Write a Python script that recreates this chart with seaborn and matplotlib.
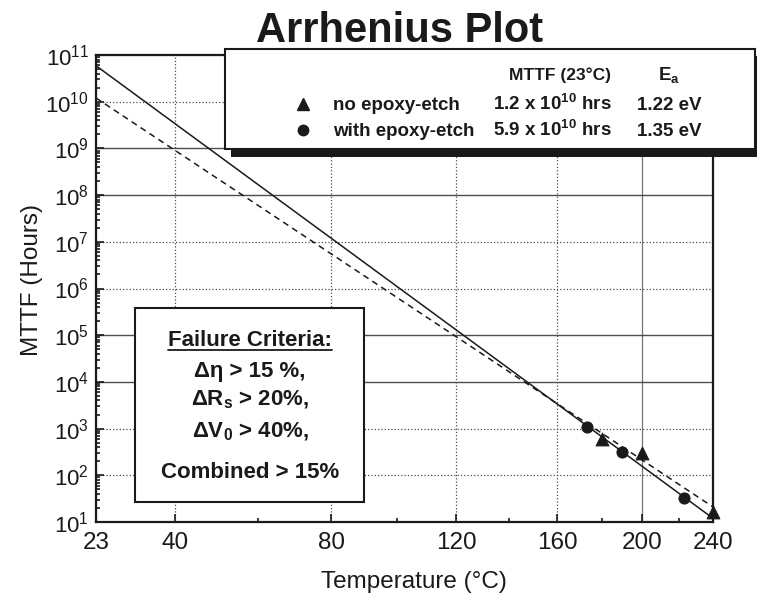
import numpy as np
import matplotlib
matplotlib.use("Agg")
import matplotlib.pyplot as plt
from matplotlib.patches import Rectangle
from matplotlib.lines import Line2D
from matplotlib.ticker import LogLocator
import seaborn as sns

sns.set_theme(style="ticks")
plt.rcParams['font.family'] = ['Liberation Sans', 'DejaVu Sans']
plt.rcParams['mathtext.default'] = 'regular'

# measured lifetimes
no_epoxy_temp = [180, 200, 240]
no_epoxy_mttf = [590, 295, 16]
epoxy_temp = [173, 190, 223]
epoxy_mttf = [1100, 310, 32]

# Arrhenius fits, end points
fit_temp = [23, 240]
fit_no_epoxy = [1.2e10, 21]
fit_epoxy = [5.9e10, 12]

x_ticks = [23, 40, 80, 120, 160, 200, 240]
x_minor = [60, 100, 140, 180, 220]

legend_labels = ["no epoxy-etch", "with epoxy-etch"]
legend_mttf = [r"1.2 x 10$^{10}$ hrs", r"5.9 x 10$^{10}$ hrs"]
legend_ea = ["1.22 eV", "1.35 eV"]
criteria = ["Δη > 15 %,", r"ΔR$_s$ > 20%,", r"ΔV$_0$ > 40%,", "Combined > 15%"]

W, H = 757, 602


def fx(px):
    return px / W


def fy(py):
    return 1 - py / H


def fwd(t):
    return -1000.0 / (np.asarray(t, dtype=float) + 273.15)


def inv(u):
    return -1000.0 / np.asarray(u, dtype=float) - 273.15


fig = plt.figure(figsize=(W / 100, H / 100), dpi=100)
ax = fig.add_axes([fx(96), fy(522), (713 - 96) / W, (522 - 55) / H])
ax.set_xscale('function', functions=(fwd, inv))
ax.set_yscale('log')

sns.lineplot(x=fit_temp, y=fit_epoxy, ax=ax, color='k', lw=1.1)
sns.lineplot(x=fit_temp, y=fit_no_epoxy, ax=ax, color='k', lw=1.1,
             linestyle=(0, (4, 3)))
sns.scatterplot(x=no_epoxy_temp, y=no_epoxy_mttf, ax=ax, marker='^', s=85,
                color='k', edgecolor='k', clip_on=False, zorder=5)
sns.scatterplot(x=epoxy_temp, y=epoxy_mttf, ax=ax, marker='o', s=65,
                color='k', edgecolor='k', clip_on=False, zorder=5)

ax.set_xlim(23, 240)
ax.set_ylim(10, 1e11)
ax.set_xticks(x_ticks, labels=[str(t) for t in x_ticks])
ax.set_xticks(x_minor, minor=True)
ax.yaxis.set_major_locator(LogLocator(base=10, numticks=20))
ax.yaxis.set_minor_locator(LogLocator(base=10, subs=np.arange(2, 10), numticks=200))

ax.tick_params(which='both', direction='in', top=False, right=False,
               width=1.2, color='k', labelcolor='k')
ax.tick_params(which='major', length=6)
ax.tick_params(which='minor', length=3)
ax.tick_params(axis='x', labelsize=17.5, pad=7)
ax.tick_params(axis='y', labelsize=16, pad=5)
for sp in ax.spines.values():
    sp.set_color('k')
    sp.set_linewidth(1.6)

ax.grid(True, which='major', color='0.3', ls=':', lw=0.9)

ax.set_xlabel("Temperature (°C)", fontsize=17.5, color='k')
ax.set_ylabel("MTTF (Hours)", fontsize=17.5, color='k')
ax.xaxis.set_label_coords((414 - 96) / 617, (522 - 571) / 467)
ax.yaxis.set_label_coords((43 - 96) / 617, (522 - 280) / 467)

fig.text(fx(400), fy(42), "Arrhenius Plot", ha='center', va='baseline',
         fontsize=30, fontweight='bold', color='k')

fig.canvas.draw()
# some grid lines in the scan are solid rather than dotted
for tick in ax.yaxis.get_major_ticks():
    if round(np.log10(tick.get_loc())) in (4, 5, 8, 9):
        tick.gridline.set_linestyle('-')
        tick.gridline.set_linewidth(1.0)
for tick in ax.xaxis.get_major_ticks():
    if tick.get_loc() == 200:
        tick.gridline.set_linestyle('-')
        tick.gridline.set_color('0.45')

# legend box with drop shadow
fig.add_artist(Rectangle((fx(231), fy(157)), (760 - 231) / W, (157 - 56) / H,
                         transform=fig.transFigure, facecolor='k',
                         edgecolor='none', zorder=4))
fig.add_artist(Rectangle((fx(225), fy(149)), (755 - 225) / W, (149 - 49) / H,
                         transform=fig.transFigure, facecolor='white',
                         edgecolor='k', lw=1.5, zorder=5))
fig.text(fx(560), fy(80), "MTTF (23°C)", ha='center', va='baseline',
         fontsize=12.5, fontweight='bold', color='k', zorder=6)
fig.text(fx(669), fy(80), r"E$_a$", ha='center', va='baseline',
         fontsize=13.5, fontweight='bold', color='k', zorder=6)
row_base = [110, 136]
for mk, lab, mt, ea, yb in zip(['^', 'o'], legend_labels, legend_mttf,
                               legend_ea, row_base):
    fig.add_artist(Line2D([fx(303)], [fy(yb - 6)], transform=fig.transFigure,
                          marker=mk, markersize=8 if mk == '^' else 7.5,
                          color='k', lw=0, zorder=6))
    fig.text(fx(333), fy(yb), lab, ha='left', va='baseline',
             fontsize=13.5, fontweight='bold', color='k', zorder=6)
    fig.text(fx(552), fy(yb), mt, ha='center', va='baseline',
             fontsize=13.5, fontweight='bold', color='k', zorder=6)
    fig.text(fx(669), fy(yb), ea, ha='center', va='baseline',
             fontsize=13.5, fontweight='bold', color='k', zorder=6)

# failure criteria box
fig.add_artist(Rectangle((fx(135), fy(502)), (364 - 135) / W, (502 - 308) / H,
                         transform=fig.transFigure, facecolor='white',
                         edgecolor='k', lw=1.5, zorder=5))
head = fig.text(fx(250), fy(346), "Failure Criteria:", ha='center',
                va='baseline', fontsize=16, fontweight='bold', color='k',
                zorder=6)
bb = head.get_window_extent(fig.canvas.get_renderer())
fig.add_artist(Line2D([bb.x0 / W, bb.x1 / W], [fy(350), fy(350)],
                      transform=fig.transFigure, color='k', lw=1.3, zorder=6))
for txt, yb in zip(criteria, [377, 405, 437, 478]):
    fig.text(fx(250), fy(yb), txt, ha='center', va='baseline', fontsize=16,
             fontweight='bold', color='k', zorder=6)

fig.savefig("out.png", dpi=100)
